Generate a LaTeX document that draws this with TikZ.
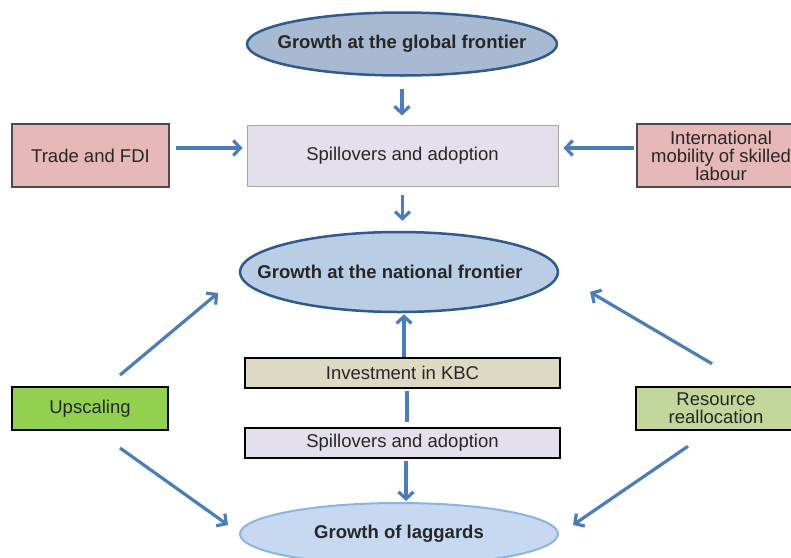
\documentclass[tikz,border=0pt]{standalone}
\usepackage{fontspec}
\setmainfont{Liberation Sans}
\usepackage{xcolor}
\usetikzlibrary{shapes.geometric,arrows.meta,positioning}
\definecolor{flowblue}{HTML}{4A7EBB}
\definecolor{ovalline}{HTML}{2F5A8E}
\definecolor{globalfill}{HTML}{A8BAD2}
\definecolor{natfill}{HTML}{B9CDE5}
\definecolor{lagfill}{HTML}{C6D9F1}
\definecolor{lagline}{HTML}{8DB3E2}
\definecolor{lilac}{HTML}{E4DFEC}
\definecolor{rose}{HTML}{E6B9B8}
\definecolor{tan}{HTML}{DDD9C3}
\definecolor{upgreen}{HTML}{92D050}
\definecolor{olive}{HTML}{C3D69B}

\begin{document}
\begin{tikzpicture}[x=1pt,y=-1pt,
every node/.style={font=\fontsize{18.5}{18}\selectfont,text=black!85},
oval/.style={ellipse,inner xsep=-40pt,inner ysep=0pt,line width=2.5pt,font=\fontsize{18.5}{18}\selectfont\bfseries},
box/.style={rectangle,draw,inner sep=0pt,align=center},
flow/.style={draw=flowblue,line width=3.2pt,-{Straight Barb[length=7pt,width=15pt]}},
link/.style={draw=flowblue,line width=3.2pt}]
\useasboundingbox (0,0) rectangle (791,557);
\clip (0,0) rectangle (791,557);

\node (global) at (402,44)[oval,draw=ovalline,fill=globalfill,minimum width=310pt,minimum height=63pt] {Growth at the global frontier};
\node (spill) at (402.5,155.5)[box,draw=gray!70,line width=1pt,fill=lilac,minimum width=311pt,minimum height=61pt] {Spillovers and adoption};
\node (trade) at (90.5,155.5)[box,draw=black!70,line width=1.5pt,fill=rose,minimum width=157pt,minimum height=63pt] {Trade and FDI};
\node (mobility) at (721,155.5)[box,draw=black!70,line width=1.5pt,fill=rose,minimum width=168pt,minimum height=63pt] {International\\mobility of skilled\\labour};
\node (national) at (399,272)[oval,draw=ovalline,fill=natfill,minimum width=318pt,minimum height=80pt] {Growth at the national frontier\hspace*{18pt}};
\node (kbc) at (402.5,373)[box,draw=black,line width=2.5pt,fill=tan,minimum width=315pt,minimum height=30pt] {Investment in KBC};
\node (spill2) at (402.5,443)[box,draw=black,line width=2.5pt,fill=lilac,minimum width=315pt,minimum height=30pt] {Spillovers and adoption};
\node (laggards) at (399,534)[oval,draw=lagline,line width=2pt,fill=lagfill,minimum width=318pt,minimum height=62pt] {\raisebox{3pt}{Growth of laggards}};
\node (upscale) at (90,408.5)[box,draw=black,line width=2pt,fill=upgreen,minimum width=156pt,minimum height=43pt] {Upscaling};
\node (realloc) at (716,408.5)[box,draw=black,line width=2.5pt,fill=olive,minimum width=160pt,minimum height=43pt] {Resource\\reallocation};

\draw[flow,shorten <=12.5pt,shorten >=9pt] (global.south) -- (global.south |- spill.north);
\draw[flow,shorten <=6pt,shorten >=4pt] ([yshift=7.5pt]trade.east) -- ([yshift=7.5pt]spill.west);
\draw[flow,shorten <=2pt,shorten >=5pt] ([yshift=7.5pt]mobility.west) -- ([yshift=7.5pt]spill.east);
\draw[flow,shorten <=8pt,shorten >=10pt] (spill.south) -- (spill.south |- national.north);

\draw[flow,shorten >=1pt] ([xshift=1.5pt]kbc.north) -- ([xshift=1.5pt]kbc.north |- national.south);
\draw[link,shorten <=5pt,shorten >=2pt] ([xshift=4.5pt]spill2.north) -- ([xshift=4.5pt]kbc.south);
\draw[flow,shorten <=2pt,shorten >=1pt] ([xshift=3.5pt]spill2.south) -- ([xshift=3.5pt]spill2.south |- laggards.north);

\draw[flow] ([shift={(30,-11)}]upscale.north) -- ([shift={(-181,21)}]national.center);
\draw[flow] ([shift={(30,17)}]upscale.south) -- ([shift={(-171,-9)}]laggards.center);
\draw[flow] ([shift={(-4,-22)}]realloc.north) -- ([shift={(191,20)}]national.center);
\draw[flow] ([shift={(-28,15)}]realloc.south) -- ([shift={(174,-9)}]laggards.center);
\end{tikzpicture}
\end{document}
